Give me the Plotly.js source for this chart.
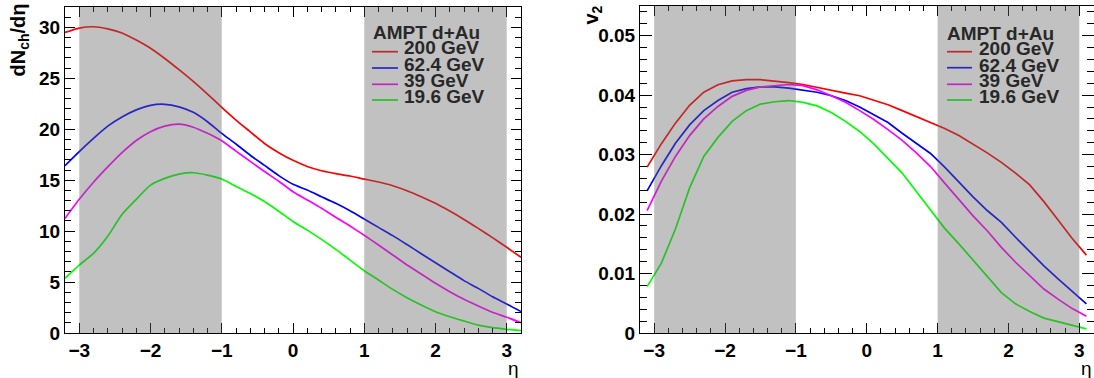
<!DOCTYPE html>
<html>
<head>
<meta charset="utf-8">
<script src="https://cdn.plot.ly/plotly-3.0.1.min.js"></script>
<style>html,body{margin:0;padding:0;background:#fff;}#chart{width:1094px;height:378px;}</style>
</head>
<body>
<div id="chart"></div>
<script>
// ---------- data ----------
const seriesNames = ["200 GeV", "62.4 GeV", "39 GeV", "19.6 GeV"];
const seriesColors = ["#ff0000", "#0000ff", "#ff00ff", "#00ff00"];
const legendHeader = "AMPT d+Au";

// left panel: dNch/deta
const etaLeft = [-3.2,-3.0,-2.8,-2.6,-2.4,-2.2,-2.0,-1.8,-1.6,-1.4,-1.2,-1.0,-0.8,-0.6,-0.4,-0.2,0.0,
                 0.2,0.4,0.6,0.8,1.0,1.2,1.4,1.6,1.8,2.0,2.2,2.4,2.6,2.8,3.0,3.2];
const dndeta200 = [29.5,29.93,30.06,29.85,29.45,28.75,27.95,26.95,25.85,24.7,23.45,22.15,20.9,19.75,18.6,17.7,16.95,
                   16.35,15.93,15.64,15.41,15.11,14.82,14.46,13.97,13.38,12.73,11.97,11.15,10.27,9.36,8.41,7.43];
const dndeta62 = [16.42,17.8,19.1,20.3,21.2,21.9,22.35,22.45,22.2,21.66,20.74,19.6,18.55,17.45,16.45,15.45,14.6,
                  14.03,13.38,12.73,12.0,11.19,10.37,9.56,8.68,7.78,6.9,6.02,5.14,4.38,3.56,2.85,2.1];
const dndeta39 = [11.25,13.12,14.8,16.3,17.7,18.9,19.76,20.3,20.5,20.2,19.6,18.87,17.85,16.85,15.85,14.9,13.87,
                  13.06,12.24,11.36,10.5,9.59,8.64,7.66,6.68,5.79,4.88,4.06,3.31,2.65,2.03,1.54,1.01];
const dndeta19 = [5.37,6.67,7.82,9.5,11.63,13.12,14.52,15.18,15.6,15.73,15.5,15.11,14.4,13.7,12.9,11.95,10.95,
                  10.1,9.19,8.21,7.16,6.11,5.2,4.28,3.47,2.75,2.09,1.6,1.18,0.78,0.52,0.36,0.23];

// right panel: v2
const etaRight = [-3.1,-2.9,-2.7,-2.5,-2.3,-2.1,-1.9,-1.7,-1.5,-1.3,-1.1,-0.9,-0.7,-0.5,-0.3,-0.1,
                  0.1,0.3,0.5,0.7,0.9,1.1,1.3,1.5,1.7,1.9,2.1,2.3,2.5,2.7,2.9,3.1];
const v2_200 = [0.0279,0.0318,0.0353,0.0383,0.0405,0.04175,0.0424,0.0426,0.0426,0.0424,0.0421,0.0418,0.04136,0.0409,0.04035,0.0399,
                0.0392,0.0384,0.0374,0.0364,0.0354,0.0344,0.0332,0.0318,0.0303,0.0287,0.0269,0.0249,0.0221,0.0190,0.0159,0.0131];
const v2_62 = [0.0239,0.0281,0.0319,0.0350,0.0374,0.0391,0.0405,0.0411,0.0414,0.0414,0.0412,0.0409,0.0405,0.0399,0.0391,0.0380,
               0.0367,0.0354,0.0336,0.0319,0.0302,0.0279,0.0254,0.0229,0.0206,0.0186,0.0161,0.0137,0.0113,0.0091,0.0070,0.0049];
const v2_39 = [0.0206,0.0255,0.0297,0.0332,0.0360,0.0381,0.0398,0.0408,0.0414,0.0416,0.0418,0.0416,0.0409,0.0399,0.0388,0.0374,
               0.0359,0.0342,0.0324,0.0303,0.0280,0.0252,0.0224,0.0197,0.0172,0.0144,0.0119,0.0097,0.0074,0.0057,0.0041,0.0028];
const v2_19 = [0.0078,0.0117,0.0175,0.0244,0.0297,0.0329,0.0356,0.0374,0.0385,0.0389,0.0391,0.0388,0.0382,0.0371,0.0356,0.0339,
               0.0318,0.0294,0.0269,0.0238,0.0207,0.0176,0.0150,0.0123,0.0095,0.0068,0.0049,0.0036,0.0025,0.0019,0.0013,0.0007];

const shadedBands = [[-3, -1], [1, 3]];

// ---------- drawing ----------
const W = 1094, H = 378;
const FONT = "Liberation Sans, Arial, Helvetica, sans-serif";
const px = x => x / W;
const py = y => 1 - y / H;

const leftSeries = [dndeta200, dndeta62, dndeta39, dndeta19];
const rightSeries = [v2_200, v2_62, v2_39, v2_19];

const traces = [];
leftSeries.forEach((ys, i) => traces.push({
  x: etaLeft, y: ys, xaxis: 'x', yaxis: 'y', type: 'scatter', mode: 'lines',
  name: seriesNames[i], line: {color: seriesColors[i], width: 1.7, shape: 'spline', smoothing: 0.6}
}));
rightSeries.forEach((ys, i) => traces.push({
  x: etaRight, y: ys, xaxis: 'x2', yaxis: 'y2', type: 'scatter', mode: 'lines',
  name: seriesNames[i], line: {color: seriesColors[i], width: 1.7}
}));

const tickFont = {family: FONT, size: 19, weight: 'bold', color: '#000'};
function xAxis(domain, anchor) {
  return {domain, anchor, range: [-3.2, 3.2], tickmode: 'linear', tick0: 0, dtick: 1,
    ticks: 'inside', ticklen: 10, tickwidth: 1, tickcolor: '#000',
    minor: {tickmode: 'linear', tick0: 0, dtick: 0.2, ticks: 'inside', ticklen: 5, tickwidth: 1, tickcolor: '#000'},
    showline: true, linecolor: '#000', linewidth: 1, mirror: 'ticks',
    showgrid: false, zeroline: false, tickfont: tickFont, fixedrange: true};
}
function yAxis(domain, anchor, range, dtick, mdtick, len, mlen) {
  return {domain, anchor, range, tickmode: 'linear', tick0: 0, dtick,
    ticks: 'inside', ticklen: len, tickwidth: 1, tickcolor: '#000',
    minor: {tickmode: 'linear', tick0: 0, dtick: mdtick, ticks: 'inside', ticklen: mlen, tickwidth: 1, tickcolor: '#000'},
    showline: true, linecolor: '#000', linewidth: 1, mirror: 'ticks',
    showgrid: false, zeroline: false, tickfont: tickFont, fixedrange: true};
}

const shapes = [];
const annotations = [];
const legendFont = {family: FONT, size: 19, weight: 'bold', color: '#282828'};

function addLegend(xHeader, xLine0, xLine1, xText, yHeader, yTexts, yLines) {
  annotations.push({xref: 'paper', yref: 'paper', x: px(xHeader), y: py(yHeader), xanchor: 'left', yanchor: 'middle',
    text: legendHeader, showarrow: false, font: legendFont});
  seriesNames.forEach((nm, i) => {
    shapes.push({type: 'line', xref: 'paper', yref: 'paper', layer: 'above',
      x0: px(xLine0), x1: px(xLine1), y0: py(yLines[i]), y1: py(yLines[i]),
      line: {color: seriesColors[i], width: 1.7}});
    annotations.push({xref: 'paper', yref: 'paper', x: px(xText), y: py(yTexts[i]), xanchor: 'left', yanchor: 'middle',
      text: nm, showarrow: false, font: legendFont});
  });
}
addLegend(371, 372, 398, 402, 32.5, [47.2, 64.5, 80.7, 96.3], [51.7, 68, 84.3, 100]);
addLegend(945, 947, 972, 977, 33.7, [48.8, 65, 80.7, 96.3], [51.7, 67.7, 84.3, 100]);

// shaded bands drawn on top (semi-transparent), as in the original
[['x', 'y', 32], ['x2', 'y2', 0.055]].forEach(([xr, yr, top]) => {
  shadedBands.forEach(b => shapes.push({type: 'rect', xref: xr, yref: yr, layer: 'above',
    x0: b[0], x1: b[1], y0: 0, y1: top, fillcolor: 'rgba(99,99,99,0.4)', line: {width: 0}}));
});

const titleFont = {family: FONT, size: 20, weight: 'bold', color: '#000'};
annotations.push({xref: 'paper', yref: 'paper', x: px(19), y: py(2), xanchor: 'center', yanchor: 'top',
  textangle: -90, text: 'dN<sub>ch</sub>/dη', showarrow: false, font: titleFont});
annotations.push({xref: 'paper', yref: 'paper', x: px(592), y: py(4), xanchor: 'center', yanchor: 'top',
  textangle: -90, text: 'v<sub>2</sub>', showarrow: false, font: titleFont});
annotations.push({xref: 'paper', yref: 'paper', x: px(521), y: py(368), xanchor: 'right', yanchor: 'middle',
  text: 'η', showarrow: false, font: {family: FONT, size: 19, color: '#000'}});
annotations.push({xref: 'paper', yref: 'paper', x: px(1094), y: py(368), xanchor: 'right', yanchor: 'middle',
  text: 'η', showarrow: false, font: {family: FONT, size: 19, color: '#000'}});

const layout = {
  width: W, height: H, margin: {l: 0, r: 0, t: 0, b: 0},
  paper_bgcolor: '#fff', plot_bgcolor: '#fff', showlegend: false,
  xaxis: xAxis([px(65), px(521)], 'y'),
  yaxis: yAxis([py(333), py(7)], 'x', [0, 32], 5, 1, 10, 6),
  xaxis2: xAxis([px(640), px(1093.5)], 'y2'),
  yaxis2: yAxis([py(333), py(6)], 'x2', [0, 0.055], 0.01, 0.002, 12, 7),
  shapes, annotations
};

Plotly.newPlot('chart', traces, layout, {staticPlot: true, displayModeBar: false});
</script>
</body>
</html>
